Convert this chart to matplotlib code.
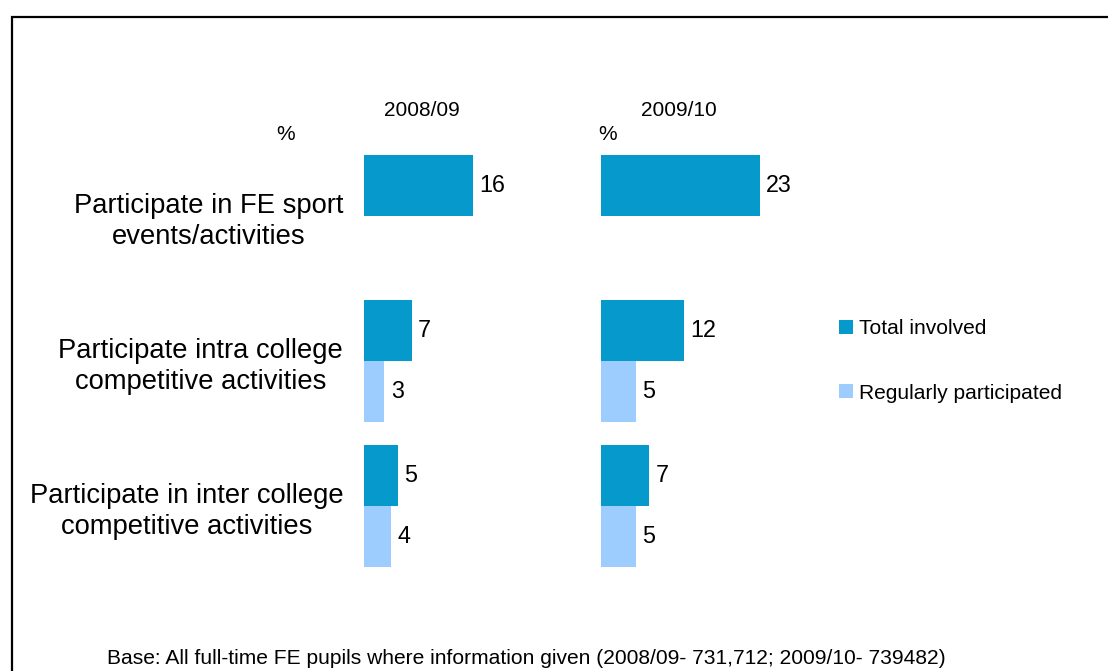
import numpy as np
import matplotlib
matplotlib.use("Agg")
import matplotlib.pyplot as plt
from matplotlib.patches import Rectangle

plt.rcParams['font.family'] = ['Liberation Sans', 'DejaVu Sans']

# ---- data ----
categories = ["Participate in FE sport\nevents/activities",
              "Participate intra college\ncompetitive activities",
              "Participate in inter college\ncompetitive activities"]
years = ["2008/09", "2009/10"]
total_0809 = [16, 7, 5]
regular_0809 = [np.nan, 3, 4]
total_0910 = [23, 12, 7]
regular_0910 = [np.nan, 5, 5]
series_names = ["Total involved", "Regularly participated"]

DARK = "#069ACC"
LIGHT = "#9DCCFF"

W, H = 1108, 671
fig = plt.figure(figsize=(W / 100, H / 100), dpi=100)


def fx(x):
    return x / W


def fy(y):
    return 1 - y / H


def make_ax(left_px, scale):
    top, bottom = 129, 593
    xmax = 30
    width = xmax * scale
    ax = fig.add_axes([fx(left_px), fy(bottom), width / W, (bottom - top) / H])
    ax.set_xlim(0, xmax)
    ax.set_ylim(2.6, -0.6)
    for s in ax.spines.values():
        s.set_visible(False)
    ax.set_xticks([])
    ax.tick_params(left=False, length=0)
    return ax


def fmt(vals):
    return ["" if np.isnan(v) else f"{v:g}" for v in vals]


y = np.arange(len(categories))
h = 0.42
ax1 = make_ax(364, 6.81)
ax2 = make_ax(601, 6.91)

conts = []
for ax, tot, reg in [(ax1, total_0809, regular_0809), (ax2, total_0910, regular_0910)]:
    c1 = ax.barh(y - h / 2, tot, height=h, color=DARK, label=series_names[0])
    c2 = ax.barh(y + h / 2, np.nan_to_num(reg), height=h, color=LIGHT, label=series_names[1])
    ax.bar_label(c1, labels=fmt(np.array(tot, dtype=float)), padding=4.5, fontsize=16.8)
    ax.bar_label(c2, labels=fmt(np.array(reg, dtype=float)), padding=4.5, fontsize=16.8)
    conts = [c1, c2]

ax1.set_yticks(y)
ax1.set_yticklabels(categories, fontsize=19.7, multialignment='center', linespacing=1.25)
ax1.tick_params(axis='y', pad=15)
ax2.set_yticks([])

# column headers
fig.text(fx(422), fy(110), years[0], ha='center', va='center', fontsize=15)
fig.text(fx(679), fy(110), years[1], ha='center', va='center', fontsize=15)
fig.text(fx(286), fy(135), "%", ha='center', va='center', fontsize=15)
fig.text(fx(608), fy(135), "%", ha='center', va='center', fontsize=15)

# legend
fig.legend(handles=conts, labels=series_names, loc='upper left',
           bbox_to_anchor=(fx(839), fy(319)), frameon=False, fontsize=15.1,
           handlelength=0.65, handleheight=0.65, handletextpad=0.3,
           labelspacing=2.18, borderpad=0, borderaxespad=0)

# footnote
fig.text(fx(526), fy(659),
         "Base: All full-time FE pupils where information given (2008/09- 731,712; 2009/10- 739482)",
         ha='center', va='center', fontsize=15.1)

# frame (top and left edges visible; others fall outside the image)
fig.add_artist(Rectangle((fx(12), -0.2), 1.2, fy(17) + 0.2, transform=fig.transFigure,
                         fill=False, edgecolor='black', linewidth=1.6, clip_on=False))

fig.savefig("out.png", dpi=100)
